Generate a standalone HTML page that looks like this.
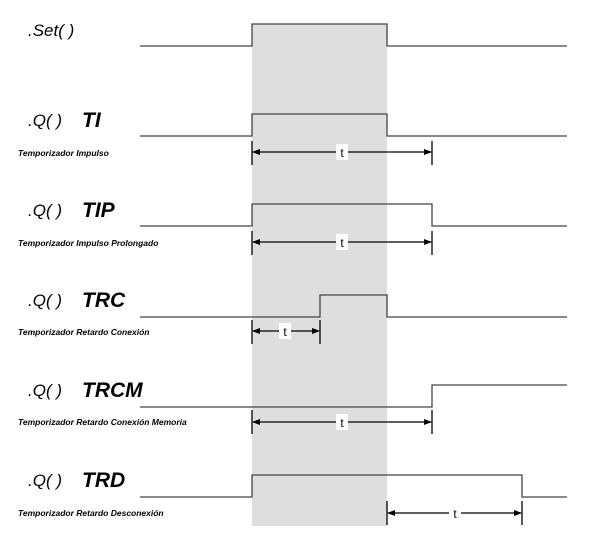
<!DOCTYPE html>
<html><head><meta charset="utf-8"><style>
html,body{margin:0;padding:0;background:#fff;}
svg{display:block;}
text{font-family:"Liberation Sans",Arial,sans-serif;font-style:italic;fill:#000;}
.big{font-size:17px;}
.tag{font-size:21px;font-weight:bold;}
.sub{font-size:8.5px;font-weight:bold;}
.t{font-size:12px;font-style:normal;}
</style></head><body>
<svg width="600" height="542" viewBox="0 0 600 542" xmlns="http://www.w3.org/2000/svg">
<defs>
<marker id="a" markerWidth="8" markerHeight="8" refX="7" refY="4" orient="auto-start-reverse" markerUnits="userSpaceOnUse"><path d="M0,1 L8,4 L0,7 Z" fill="#000"/></marker>
</defs>
<rect x="252" y="24" width="135" height="502" fill="#dedede"/>
<g fill="none" stroke="#444" stroke-width="1.3">
<polyline points="140,46 252,46 252,24 387,24 387,46 567,46"/>
<polyline points="140,136 252,136 252,114 387,114 387,136 567,136"/>
<polyline points="140,226 252,226 252,204 432,204 432,226 567,226"/>
<polyline points="140,317 320,317 320,295 387,295 387,317 567,317"/>
<polyline points="140,407 432,407 432,385 567,385"/>
<polyline points="140,497 252,497 252,475 522,475 522,497 567,497"/>
</g>
<g stroke="#000" stroke-width="1.3">
<line x1="252" y1="141" x2="252" y2="165"/><line x1="432" y1="141" x2="432" y2="165"/>
<line x1="252" y1="231" x2="252" y2="255"/><line x1="432" y1="231" x2="432" y2="255"/>
<line x1="252" y1="320" x2="252" y2="344"/><line x1="320" y1="320" x2="320" y2="344"/>
<line x1="252" y1="410" x2="252" y2="434"/><line x1="432" y1="410" x2="432" y2="434"/>
<line x1="387" y1="501" x2="387" y2="525"/><line x1="522" y1="501" x2="522" y2="525"/>
<line x1="253" y1="152" x2="431" y2="152" marker-start="url(#a)" marker-end="url(#a)"/>
<line x1="253" y1="242" x2="431" y2="242" marker-start="url(#a)" marker-end="url(#a)"/>
<line x1="253" y1="331" x2="319" y2="331" marker-start="url(#a)" marker-end="url(#a)"/>
<line x1="253" y1="422" x2="431" y2="422" marker-start="url(#a)" marker-end="url(#a)"/>
<line x1="388" y1="513" x2="521" y2="513" marker-start="url(#a)" marker-end="url(#a)"/>
</g>
<g fill="#fff">
<rect x="336" y="144" width="12" height="16"/><rect x="336" y="234" width="12" height="16"/>
<rect x="279" y="323" width="12" height="16"/><rect x="336" y="414" width="12" height="16"/>
<rect x="449" y="505" width="12" height="16"/>
</g>
<g class="t" text-anchor="middle">
<text class="t" x="342" y="157">t</text><text class="t" x="342" y="247">t</text>
<text class="t" x="285" y="336">t</text><text class="t" x="342" y="427">t</text>
<text class="t" x="455" y="518">t</text>
</g>
<text class="big" x="28" y="36">.Set( )</text>
<text class="big" x="28" y="126">.Q( )</text><text class="tag" x="82" y="127">TI</text>
<text class="sub" x="18" y="156">Temporizador Impulso</text>
<text class="big" x="28" y="216">.Q( )</text><text class="tag" x="82" y="217">TIP</text>
<text class="sub" x="18" y="246">Temporizador Impulso Prolongado</text>
<text class="big" x="28" y="306">.Q( )</text><text class="tag" x="82" y="307">TRC</text>
<text class="sub" x="18" y="335">Temporizador Retardo Conexión</text>
<text class="big" x="28" y="396">.Q( )</text><text class="tag" x="82" y="397">TRCM</text>
<text class="sub" x="18" y="425">Temporizador Retardo Conexión Memoria</text>
<text class="big" x="28" y="486">.Q( )</text><text class="tag" x="82" y="487">TRD</text>
<text class="sub" x="18" y="516">Temporizador Retardo Desconexión</text>
</svg>
</body></html>
